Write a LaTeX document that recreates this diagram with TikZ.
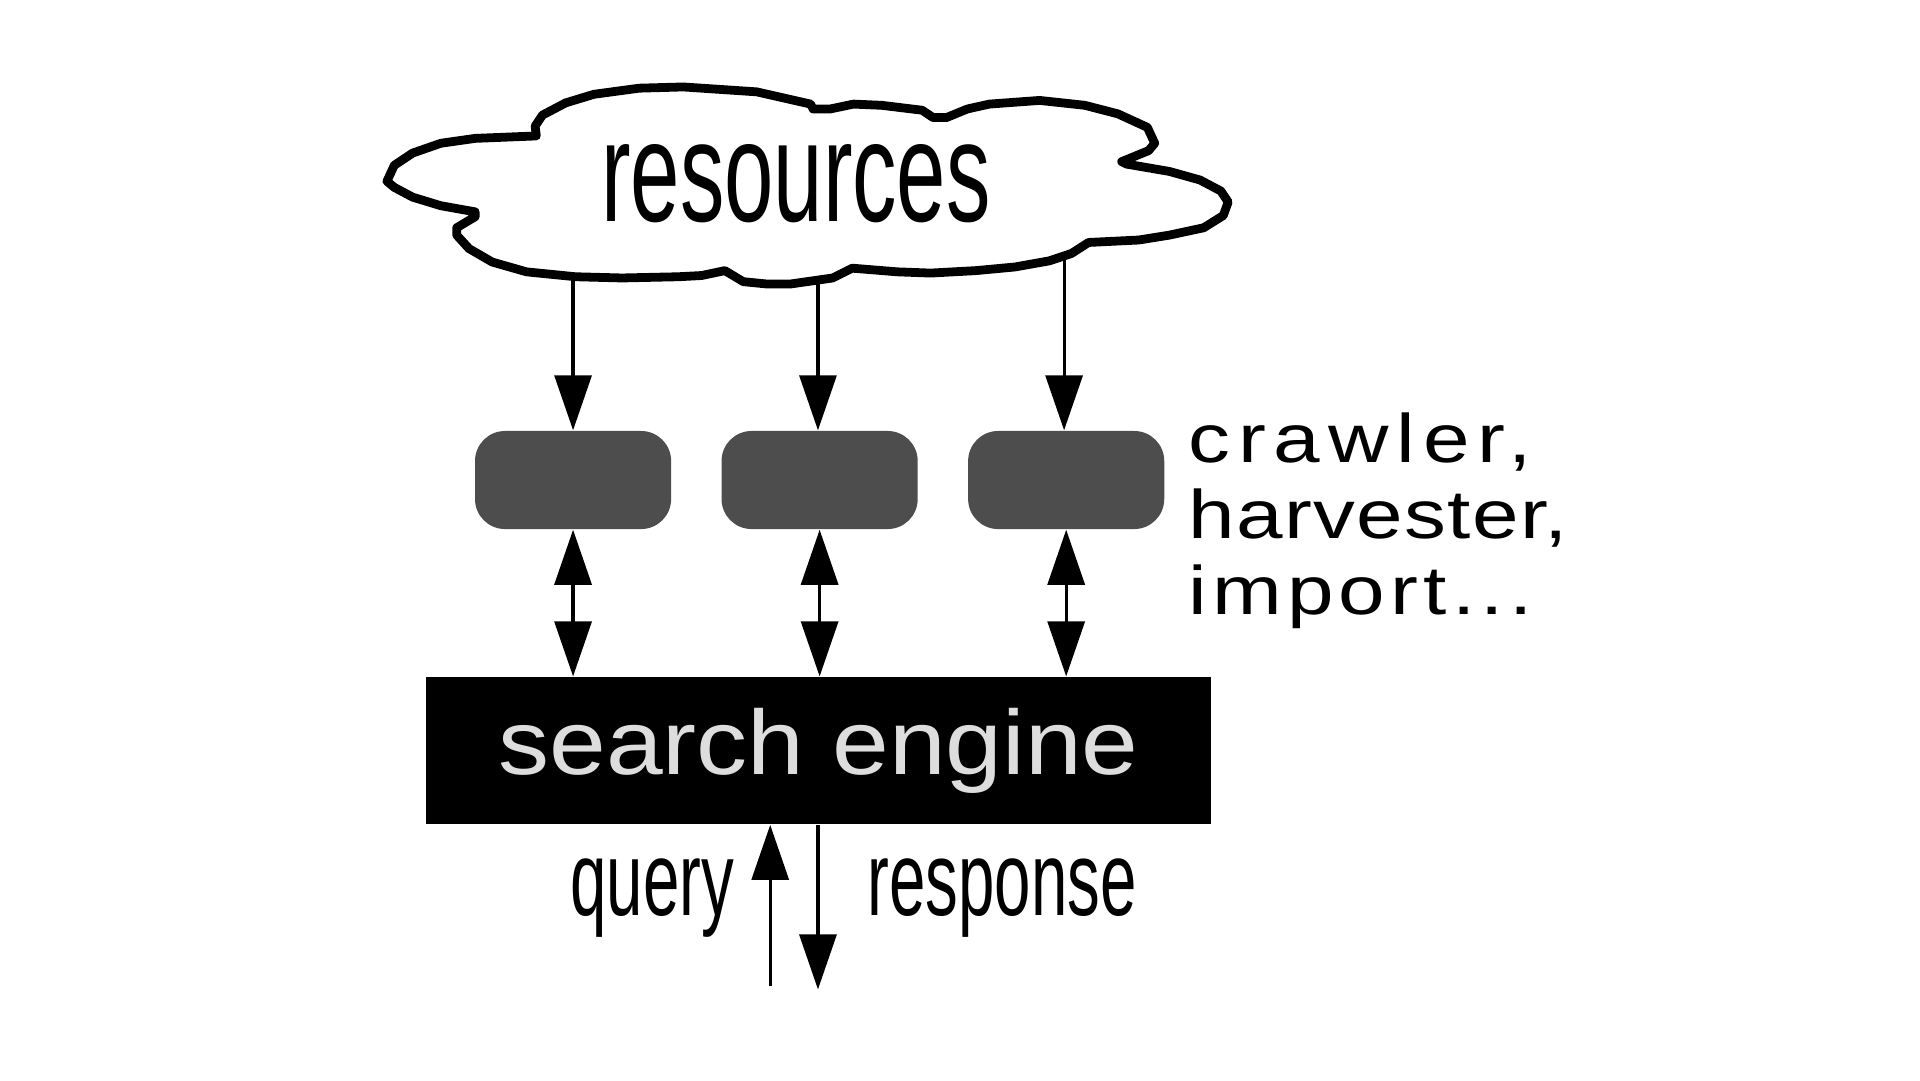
\documentclass[tikz,border=0pt]{standalone}
\usepackage{fontspec}
\setmainfont{Liberation Sans}
\newfontfamily\narrowfont[FakeStretch=0.62]{Liberation Sans}
\newfontfamily\widefont[FakeStretch=1.22]{Liberation Sans}
\newfontfamily\enginefont[FakeStretch=1.115]{Liberation Sans}
\usetikzlibrary{positioning,arrows.meta}
\definecolor{tool}{HTML}{4D4D4D}
\definecolor{ink}{HTML}{000000}
\definecolor{pale}{HTML}{DDDDDD}

\begin{document}
\begin{tikzpicture}[
	  x=0.012245cm, y=-0.012245cm,
	    >={Triangle[length=5.5mm, width=3.7mm]},
	      crawler/.style={fill=tool, rounded corners=3mm, minimum width=1.96cm, minimum height=0.98cm, inner sep=0pt},
	        engine/.style={fill=ink, minimum width=7.85cm, minimum height=1.47cm, inner sep=0pt, text=pale, font=\enginefont\fontsize{26}{30}\selectfont},
	          iotext/.style={inner sep=0pt, font=\narrowfont\fontsize{30}{36}\selectfont},
	            link/.style={->, line width=0.9pt},
	              cloudline/.style={draw=ink, fill=white, line width=2.5pt, line join=round}
	              ]
	              \useasboundingbox (0,0) rectangle (1568,882);
	              % Resources cloud
	              \draw[cloudline] (316,148) -- (322,135) -- (337,125) -- (360,117) -- (388,113) -- (438,111) -- (437,103) -- (443,94)
	                -- (462,84) -- (485,77) -- (522,72) -- (558,71) -- (618,75) -- (662,85) -- (664,89) -- (678,89) -- (697,85)
	                -- (720,86) -- (753,90) -- (762,96) -- (773,96) -- (790,89) -- (808,85) -- (849,82) -- (886,86) -- (913,93)
	                -- (937,104) -- (943,117) -- (938,123) -- (916,132) -- (920,134) -- (955,140) -- (980,147) -- (997,156)
	                -- (1003,165) -- (999,176) -- (983,186) -- (955,192) -- (930,196) -- (889,198) -- (875,207) -- (857,213)
	                -- (829,218) -- (797,221) -- (760,223) -- (733,222) -- (696,219) -- (680,227) -- (645,232) -- (627,232)
	                -- (607,230) -- (592,221) -- (573,225) -- (554,226) -- (508,227) -- (470,226) -- (430,222) -- (402,214)
	                -- (383,203) -- (373,192) -- (373,186) -- (388,177) -- (388,173) -- (360,168) -- (337,161) -- (322,153) -- cycle;
	              \node[inner sep=0pt, font=\narrowfont\fontsize{40.7}{48}\selectfont] (res) at (650,150) {resources};
	              \coordinate (r1) at (468,226);
	              \coordinate (r2) at (668,229);
	              \coordinate (r3) at (869,209);
	              % Crawlers
	              \node[crawler] (c1) at (468,392) {};
	              \node[crawler, right=4.9mm of c1] (c2) {};
	              \node[crawler, right=4.9mm of c2] (c3) {};
	              \node[anchor=west, align=left, inner sep=0pt, font=\widefont\fontsize{19.5}{21.6}\selectfont] (role) at (970,425)
	                {{\addfontfeature{LetterSpace=11.5}crawler,}\\{\addfontfeature{LetterSpace=2}harvester,}\\{\addfontfeature{LetterSpace=7.6}import...}};
	              % Search engine
	              \node[engine] (se) at (668.5,613) {search engine};
	              \coordinate (qry) at (629,805);
	              \coordinate (resp) at (668,808);
	              \node[iotext, anchor=east] (qlab) at (600,733) {query};
	              \node[iotext, anchor=west] (rlab) at (708,733) {response};

	              % edges
	              \draw[link] (r1) -- (r1 |- c1.north);
	              \draw[link] (r2) -- (r2 |- c2.north);
	              \draw[link] (r3) -- (r3 |- c3.north);
	              \draw[link, <->] (c1.south) -- (c1.south |- se.north);
	              \draw[link, <->] (c2.south) -- (c2.south |- se.north);
	              \draw[link, <->] (c3.south) -- (c3.south |- se.north);
	              \draw[link] (qry) -- (qry |- se.south);
	              \draw[link] (resp |- se.south) -- (resp);
	              \end{tikzpicture}
\end{document}
